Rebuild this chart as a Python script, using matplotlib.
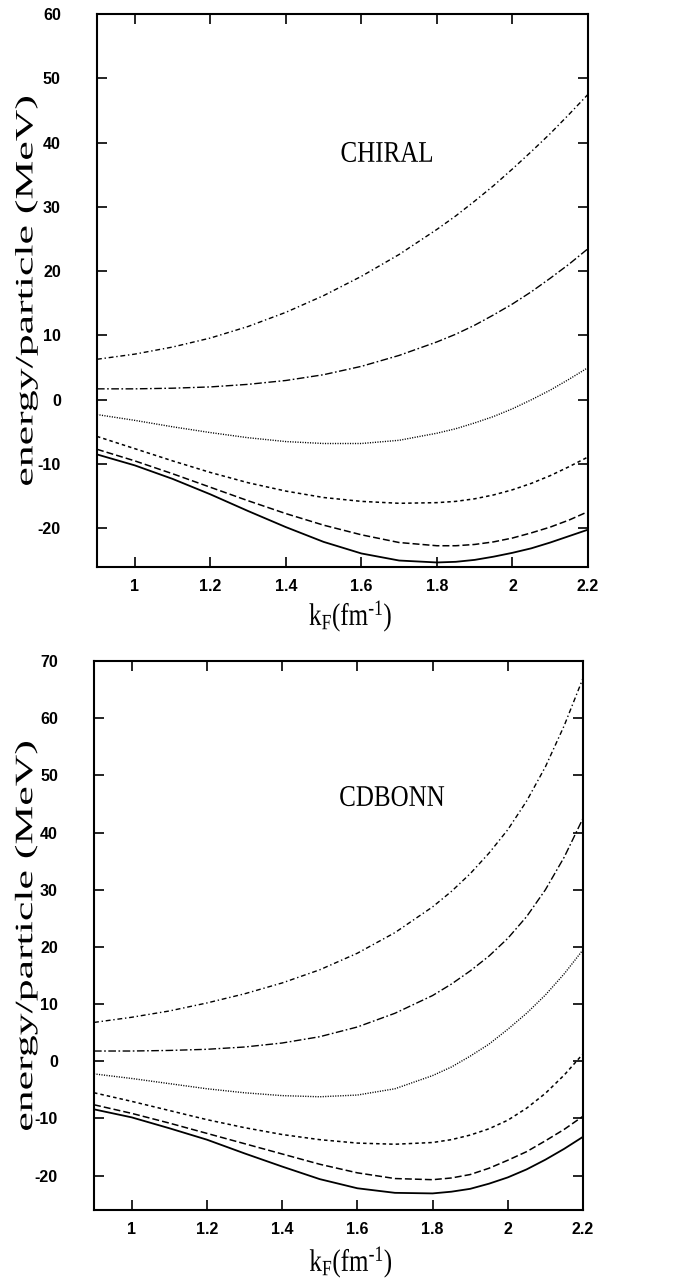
import numpy as np
import matplotlib.pyplot as plt
from matplotlib import patheffects
from matplotlib.transforms import Affine2D

plt.rcParams['lines.scale_dashes'] = False
plt.rcParams['mathtext.fontset'] = 'custom'
plt.rcParams['mathtext.rm'] = 'Liberation Serif'
plt.rcParams['mathtext.it'] = 'Liberation Serif:italic'


class Stretch(patheffects.AbstractPathEffect):
    # scale the glyphs about their own centre (the scanned labels are elongated)
    def __init__(self, sx=1.0, sy=1.0):
        super().__init__()
        self.sx, self.sy = sx, sy

    def draw_path(self, renderer, gc, tpath, affine, rgbFace=None):
        ext = tpath.get_extents()
        cx, cy = (ext.x0 + ext.x1) / 2, (ext.y0 + ext.y1) / 2
        t = Affine2D().translate(-cx, -cy).scale(self.sx, self.sy).translate(cx, cy) + affine
        renderer.draw_path(gc, tpath, t, rgbFace)


# k_F grid (fm^-1)
kf = [0.9, 1.0, 1.1, 1.2, 1.3, 1.4, 1.5, 1.6, 1.7, 1.8,
      1.85, 1.9, 1.95, 2.0, 2.05, 2.1, 2.15, 2.2]

# CHIRAL panel, energy/particle (MeV)
chiral_a = [6.3, 7.1, 8.2, 9.6, 11.4, 13.6, 16.2, 19.2, 22.6, 26.5,
            28.6, 30.9, 33.3, 35.9, 38.6, 41.4, 44.4, 47.5]
chiral_b = [1.7, 1.7, 1.8, 2.0, 2.4, 3.0, 3.9, 5.2, 6.9, 9.0,
            10.2, 11.6, 13.2, 14.9, 16.8, 18.9, 21.1, 23.5]
chiral_c = [-2.3, -3.2, -4.2, -5.1, -5.9, -6.5, -6.8, -6.8, -6.3, -5.2,
            -4.5, -3.6, -2.6, -1.4, 0.0, 1.5, 3.2, 5.0]
chiral_d = [-5.7, -7.6, -9.5, -11.3, -12.9, -14.2, -15.2, -15.8, -16.1, -16.0,
            -15.8, -15.4, -14.8, -14.0, -13.0, -11.8, -10.4, -8.9]
chiral_e = [-7.7, -9.5, -11.5, -13.6, -15.7, -17.7, -19.5, -21.0, -22.2, -22.7,
            -22.7, -22.5, -22.1, -21.5, -20.7, -19.8, -18.7, -17.4]
chiral_f = [-8.5, -10.2, -12.3, -14.7, -17.3, -19.8, -22.1, -23.9, -25.0, -25.3,
            -25.2, -24.9, -24.4, -23.8, -23.1, -22.2, -21.2, -20.2]

# CDBONN panel
cdbonn_a = [6.8, 7.7, 8.8, 10.2, 11.8, 13.7, 16.0, 18.9, 22.5, 27.0,
            29.7, 32.8, 36.4, 40.5, 45.5, 51.5, 58.7, 67.0]
cdbonn_b = [1.8, 1.8, 1.9, 2.1, 2.5, 3.2, 4.3, 6.0, 8.4, 11.5,
            13.5, 15.8, 18.4, 21.5, 25.3, 30.0, 35.7, 42.5]
cdbonn_c = [-2.2, -3.0, -3.9, -4.8, -5.5, -6.0, -6.2, -5.9, -4.8, -2.5,
            -1.0, 0.9, 3.0, 5.6, 8.4, 11.6, 15.3, 19.5]
cdbonn_d = [-5.5, -7.0, -8.6, -10.2, -11.6, -12.8, -13.7, -14.3, -14.5, -14.2,
            -13.7, -12.9, -11.8, -10.3, -8.2, -5.6, -2.4, 1.3]
cdbonn_e = [-7.6, -9.1, -10.8, -12.6, -14.4, -16.2, -18.0, -19.5, -20.5, -20.7,
            -20.4, -19.8, -18.7, -17.3, -15.8, -13.9, -11.9, -9.6]
cdbonn_f = [-8.4, -9.8, -11.7, -13.7, -16.1, -18.4, -20.6, -22.2, -23.0, -23.1,
            -22.8, -22.3, -21.4, -20.3, -18.9, -17.2, -15.3, -13.2]

xticks = [1.0, 1.2, 1.4, 1.6, 1.8, 2.0, 2.2]
xticklabels = ['1', '1.2', '1.4', '1.6', '1.8', '2', '2.2']
yticks_chiral = [-20, -10, 0, 10, 20, 30, 40, 50, 60]
yticks_cdbonn = [-20, -10, 0, 10, 20, 30, 40, 50, 60, 70]

styles = [
    dict(ls=(0, (3.5, 2.0, 1.0, 2.0)), lw=1.0),
    dict(ls=(0, (5.5, 1.8, 1.2, 1.8)), lw=1.0),
    dict(ls=(0, (0.8, 1.0)), lw=1.0),
    dict(ls=(0, (2.5, 2.2)), lw=1.1),
    dict(ls=(0, (5.0, 2.2)), lw=1.1),
    dict(ls='-', lw=1.3),
]

fig = plt.figure(figsize=(6.73, 12.83), dpi=100)
ax1 = fig.add_axes([0.1441, 0.5581, 0.7296, 0.4310])
ax2 = fig.add_axes([0.1397, 0.0569, 0.7266, 0.4279])

panels = [
    (ax1, [chiral_a, chiral_b, chiral_c, chiral_d, chiral_e, chiral_f], (-26, 60),
     yticks_chiral, 'CHIRAL', (1.668, 38.2), (0.517, -0.089), -0.144),
    (ax2, [cdbonn_a, cdbonn_b, cdbonn_c, cdbonn_d, cdbonn_e, cdbonn_f], (-26, 70),
     yticks_cdbonn, 'CDBONN', (1.692, 46.0), (0.526, -0.095), -0.139),
]

for ax, curves, ylim, yt, name, tpos, xlpos, ylx in panels:
    for y, st in zip(curves, styles):
        ax.plot(kf, y, color='black', **st)
    ax.set_xlim(0.9, 2.2)
    ax.set_ylim(*ylim)
    ax.set_xticks(xticks)
    ax.set_xticklabels(xticklabels)
    ax.set_yticks(yt)
    ax.set_yticklabels([str(v) for v in yt])
    ax.tick_params(direction='in', length=7, width=1.2, top=True, right=True,
                   labelsize=11.5)
    ax.tick_params(axis='x', pad=9)
    ax.tick_params(axis='y', pad=26)
    for lab in ax.get_xticklabels() + ax.get_yticklabels():
        lab.set_family('Liberation Sans')
        lab.set_weight('bold')
    for sp in ax.spines.values():
        sp.set_linewidth(1.5)
    ax.text(tpos[0], tpos[1], name, family='Liberation Serif', fontsize=18,
            ha='center', va='center', path_effects=[Stretch(1.0, 1.2)])
    ax.set_xlabel('k$_\\mathrm{F}$(fm$^{\\mathrm{\u20101}}$)', family='Liberation Serif',
                  fontsize=18, path_effects=[Stretch(1.0, 1.25)])
    ax.xaxis.label.set_va('center')
    ax.xaxis.set_label_coords(*xlpos)
    ax.set_ylabel('energy/particle (MeV)', family='Liberation Serif', fontsize=18,
                  path_effects=[Stretch(1.75, 1.0)])
    ax.yaxis.label.set_va('center')
    ax.yaxis.set_label_coords(ylx, 0.5)

fig.savefig('out.png', dpi=100)
